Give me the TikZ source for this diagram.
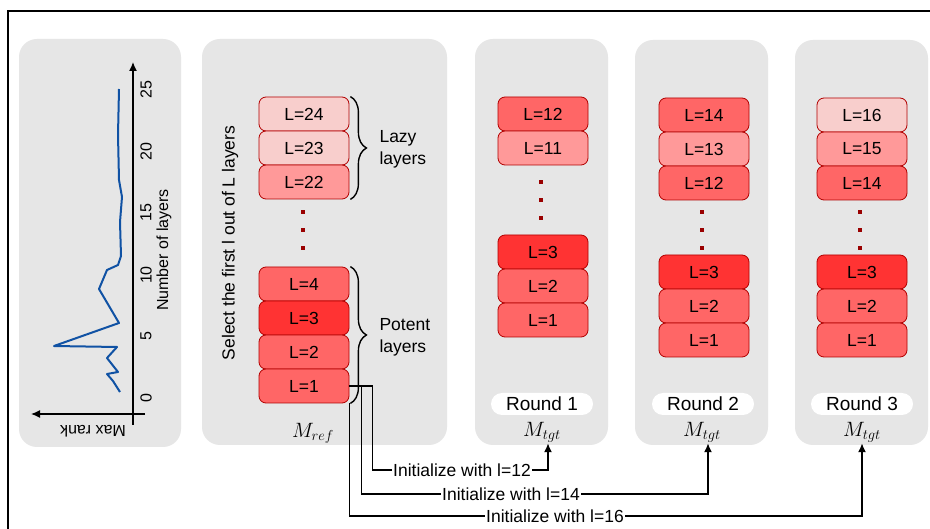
\documentclass[tikz,border=0pt]{standalone}
\usepackage{fontspec}
\setmainfont{Liberation Sans}
\usetikzlibrary{decorations.pathreplacing,arrows.meta,calc}
\definecolor{panelgray}{RGB}{230,230,230}
\definecolor{lborder}{RGB}{178,0,0}
\definecolor{lvla}{RGB}{248,206,204}
\definecolor{lvlb}{RGB}{255,153,153}
\definecolor{lvlc}{RGB}{255,102,102}
\definecolor{lvld}{RGB}{255,51,51}
\definecolor{dotred}{RGB}{153,0,0}
\definecolor{plotblue}{RGB}{16,82,164}
\begin{document}
\begin{tikzpicture}[x=1pt,y=-1pt,
  panel/.style={fill=panelgray, rounded corners=18pt},
  layer/.style={draw=lborder, line width=0.8pt, rounded corners=7pt, minimum width=90pt, minimum height=34pt, inner sep=0pt, font=\fontsize{17.5}{20}\selectfont},
  la/.style={layer, fill=lvla},
  lb/.style={layer, fill=lvlb},
  lc/.style={layer, fill=lvlc},
  ld/.style={layer, fill=lvld},
  dotsq/.style={fill=dotred, minimum size=4.5pt, inner sep=0pt},
  pill/.style={fill=white, rounded corners=11pt, minimum width=102pt, minimum height=22pt, inner sep=0pt, font=\fontsize{19}{22}\selectfont},
  mlab/.style={font=\fontsize{20}{22}\selectfont, inner sep=1pt},
  brc/.style={decorate, decoration={brace, amplitude=16pt}, line width=1.4pt},
  side/.style={align=left, anchor=west, font=\fontsize{17.5}{22}\selectfont},
  conn/.style={line width=1.5pt},
  initlab/.style={font=\fontsize{17.5}{20}\selectfont, inner sep=1pt},
  tick/.style={rotate=90, font=\fontsize{16}{18}\selectfont},
  arr/.style={-{Latex[length=9pt,width=8pt]}}
]
\useasboundingbox (0,0) rectangle (930,529);
\fill[white] (0,0) rectangle (930,529);
% frame
\draw[line width=1.6pt] (8,529) -- (8,11) -- (930,11);

% panels
\path[panel] (19,39) rectangle (181,447);
\path[panel] (202,39) rectangle (447,445);
\path[panel] (475,39) rectangle (608,445);
\path[panel] (635,40) rectangle (768,445);
\path[panel] (795,40) rectangle (928,445);

% plot
\draw[line width=1.4pt, arr] (133,425) -- (133,62);
\draw[line width=1.4pt, arr] (145,414) -- (31,414);
\foreach \v/\yy in {0/398,5/336,10/275,15/213,20/152,25/90}{
  \node[tick] (tk\v) at (146,\yy) {\v};
}
\node[rotate=90, font=\fontsize{16}{18}\selectfont] (nl) at (164,250) {Number of layers};
\node[rotate=180, font=\fontsize{16}{18}\selectfont] (mr) at (93,431) {Max rank};
\draw[plotblue, line width=2pt, line join=round]
  (119,89) -- (118,135) -- (119,180) -- (122,197) -- (120,222) -- (121,256) -- (118,265)
  -- (107,270) -- (99,289) -- (119,323) -- (54,346) -- (117,347) -- (107,358)
  -- (118,372) -- (107,374) -- (113,381) -- (120,392);

% M_ref
\node[rotate=90, font=\fontsize{17.5}{20}\selectfont] (sel) at (230,243) {Select the first l out of L layers};
\node[la] (A24) at (304,114) {L=24};
\node[la] (A23) at (304,148) {L=23};
\node[lb] (A22) at (304,182) {L=22};
\node[dotsq] (Ad1) at (303,212) {};
\node[dotsq] (Ad2) at (303,230) {};
\node[dotsq] (Ad3) at (303,248) {};
\node[lc] (A4) at (304,284) {L=4};
\node[ld] (A3) at (304,318) {L=3};
\node[lc] (A2) at (304,352) {L=2};
\node[lc] (A1) at (304,386) {L=1};
\draw[brc] ([xshift=1pt]A24.north east) -- ([xshift=1pt]A22.south east);
\draw[brc] ([xshift=1pt]A4.north east) -- ([xshift=1pt]A1.south east);
\node[side] (lazy) at (376,149) {Lazy\\layers};
\node[side] (pot) at (376,337) {Potent\\layers};
\node[mlab] (mref) at (313,433) {$M_{ref}$};

% Round 1
\node[lc] (B12) at (543,114) {L=12};
\node[lb] (B11) at (543,148) {L=11};
\node[dotsq] (Bd1) at (541,182) {};
\node[dotsq] (Bd2) at (541,200) {};
\node[dotsq] (Bd3) at (541,218) {};
\node[ld] (B3) at (543,252) {L=3};
\node[lc] (B2) at (543,286) {L=2};
\node[lc] (B1) at (543,320) {L=1};
\node[pill] (r1) at (542,404) {Round 1};
\node[mlab] (m1) at (542,432) {$M_{tgt}$};

% Round 2
\node[lc] (C14) at (704,115) {L=14};
\node[lb] (C13) at (704,149) {L=13};
\node[lc] (C12) at (704,183) {L=12};
\node[dotsq] (Cd1) at (702,212) {};
\node[dotsq] (Cd2) at (702,230) {};
\node[dotsq] (Cd3) at (702,248) {};
\node[ld] (C3) at (704,272) {L=3};
\node[lc] (C2) at (704,306) {L=2};
\node[lc] (C1) at (704,340) {L=1};
\node[pill] (r2) at (703,404) {Round 2};
\node[mlab] (m2) at (702,432) {$M_{tgt}$};

% Round 3
\node[la] (D16) at (862,115) {L=16};
\node[lb] (D15) at (862,149) {L=15};
\node[lc] (D14) at (862,183) {L=14};
\node[dotsq] (Dd1) at (860,212) {};
\node[dotsq] (Dd2) at (860,230) {};
\node[dotsq] (Dd3) at (860,248) {};
\node[ld] (D3) at (862,272) {L=3};
\node[lc] (D2) at (862,306) {L=2};
\node[lc] (D1) at (862,340) {L=1};
\node[pill] (r3) at (862,404) {Round 3};
\node[mlab] (m3) at (862,432) {$M_{tgt}$};

% connectors
\node[initlab] (t1) at (462,470) {Initialize with l=12};
\node[initlab] (t2) at (511,494) {Initialize with l=14};
\node[initlab] (t3) at (555,516) {Initialize with l=16};
\draw[conn] (A1.east) -- ++(23,0) |- (t1.west);
\draw[conn, arr] (t1.east) -| ([xshift=6pt]m1.south);
\draw[conn] (A1.east) -- ++(12,0) |- (t2.west);
\draw[conn, arr] (t2.east) -| ([xshift=6pt]m2.south);
\draw[conn] (A1.south east) |- (t3.west);
\draw[conn, arr] (t3.east) -| (m3.south);
\end{tikzpicture}
\end{document}
